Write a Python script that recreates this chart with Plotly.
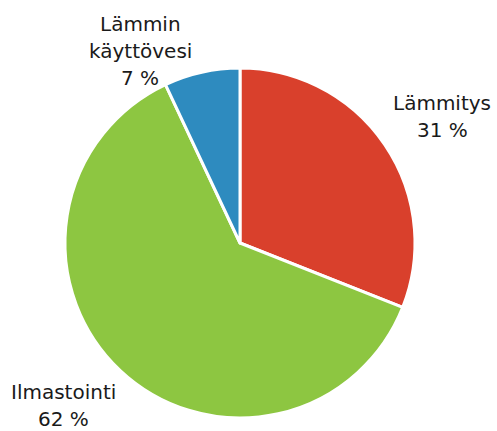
import plotly.graph_objects as go

labels = ["Lämmitys", "Ilmastointi", "Lämmin käyttövesi"]
values = [31, 62, 7]
colors = ["#d9402c", "#8dc641", "#2e8bbf"]
# label lines as displayed
label_lines = [["Lämmitys"], ["Ilmastointi"], ["Lämmin", "käyttövesi"]]

W, H = 497, 431

fig = go.Figure(go.Pie(
    labels=labels, values=values, sort=False, direction="clockwise", rotation=0,
    marker=dict(colors=colors, line=dict(color="white", width=3)),
    textinfo="none", hoverinfo="label+percent", showlegend=False,
    domain=dict(x=[65 / W, 415 / W], y=[1 - 418 / H, 1 - 68 / H]),
))

# annotation anchor positions (pixel centers) for each label block
anchors = [(442, 103), (63, 392), (140, 24)]
line_gap = 27
font = dict(family="DejaVu Sans, sans-serif", size=20, color="#1a1a1a")
for lines, v, (cx, cy) in zip(label_lines, values, anchors):
    all_lines = lines + [f"{v} %"]
    for i, t in enumerate(all_lines):
        y = cy + i * line_gap
        fig.add_annotation(text=t, x=cx / W, y=1 - y / H, xref="paper", yref="paper",
                           showarrow=False, xanchor="center", yanchor="middle",
                           height=22, borderpad=0, font=font)

fig.update_layout(width=W, height=H, margin=dict(l=0, r=0, t=0, b=0),
                  paper_bgcolor="white", plot_bgcolor="white")
fig.write_html("out.html", config={"displayModeBar": False},
               post_script="document.body.style.margin='0';")
